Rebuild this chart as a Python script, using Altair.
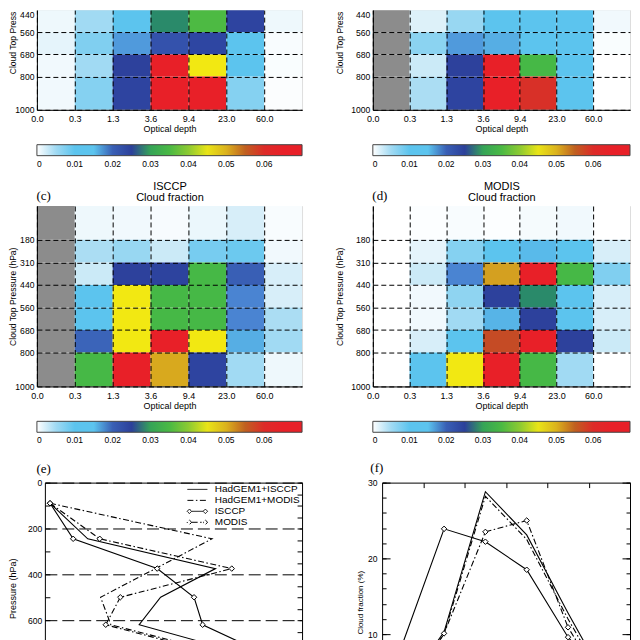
import altair as alt
import pandas as pd

FONT = "Liberation Sans"
SERIF = "Liberation Serif"
GREY = "#8c8c8c"

# ---------------- heat maps: cloud fraction per (optical depth, cloud-top pressure) bin -------------
tau_labels = ["0.0", "0.3", "1.3", "3.6", "9.4", "23.0", "60.0"]
press_bands = ["50-180", "180-310", "310-440", "440-560", "560-680", "680-800", "800-1000"]
press_labels = ["180", "310", "440", "560", "680", "800", "1000"]
# index-space edges of the pressure bands (top and bottom bands are 1.5x tall)
band_top = [0.0, 1.5, 2.5, 3.5, 4.5, 5.5, 6.5]
band_bot = [1.5, 2.5, 3.5, 4.5, 5.5, 6.5, 8.0]

ab_bands = ["440-560", "560-680", "680-800", "800-1000"]
a_vals = [
    [0.0012, 0.005, 0.012, 0.0285, 0.036, 0.022, 0.0012],
    [0.0018, 0.0068, 0.0178, 0.0205, 0.0212, 0.012, 0.0005],
    [0.001, 0.005, 0.024, 0.065, 0.047, 0.011, 0.0004],
    [0.001, 0.0065, 0.022, 0.065, 0.065, 0.0065, 0.0003],
]
b_vals = [
    [None, 0.0022, 0.0055, 0.012, 0.0165, 0.012, 0.001],
    [None, 0.0062, 0.0178, 0.0172, 0.012, 0.012, 0.0004],
    [None, 0.003, 0.024, 0.065, 0.034, 0.012, 0.0],
    [None, 0.0045, 0.022, 0.065, 0.0595, 0.012, 0.0],
]
c_vals = [
    [None, 0.0012, 0.001, 0.0006, 0.0014, 0.0025, 0.0005],
    [None, 0.0045, 0.0055, 0.003, 0.0075, 0.0085, 0.001],
    [None, 0.003, 0.024, 0.023, 0.034, 0.020, 0.0025],
    [None, 0.012, 0.047, 0.034, 0.034, 0.0185, 0.0025],
    [None, 0.012, 0.047, 0.034, 0.034, 0.0185, 0.0045],
    [None, 0.0198, 0.047, 0.065, 0.047, 0.0172, 0.005],
    [None, 0.034, 0.065, 0.0505, 0.022, 0.005, 0.0012],
]
d_vals = [
    [0.0, 0.0002, 0.0005, 0.0002, 0.0007, 0.001, 0.0],
    [0.0, 0.0018, 0.0065, 0.011, 0.0168, 0.012, 0.0025],
    [0.0, 0.003, 0.0185, 0.051, 0.065, 0.034, 0.0068],
    [0.0, 0.001, 0.006, 0.024, 0.0285, 0.012, 0.0025],
    [0.0, 0.001, 0.005, 0.017, 0.024, 0.012, 0.0025],
    [0.0, 0.0025, 0.012, 0.057, 0.065, 0.024, 0.003],
    [0.0, 0.012, 0.047, 0.065, 0.034, 0.005, 0.0],
]

# colour table
cb_domain = [0, 0.0005, 0.002, 0.004, 0.007, 0.010, 0.0165, 0.0185, 0.021, 0.026, 0.0285,
             0.031, 0.038, 0.043, 0.047, 0.051, 0.055, 0.058, 0.061, 0.07]
cb_range = ["#ffffff", "#f8fcfe", "#e2f3fa", "#b4e0f4", "#7ccef0", "#5cc4ee", "#5cc4ee",
            "#4a84d2", "#2e46a2", "#2c3e98", "#2a8a6a", "#3cb64a", "#54bb40", "#e0e01c",
            "#f2e812", "#d4a020", "#c06020", "#c84028", "#e82028", "#e82028"]
cb_ticks = [0, 0.01, 0.02, 0.03, 0.04, 0.05, 0.06]

# ---------------- (e) vertical profiles ----------------
series_names = ["HadGEM1+ISCCP", "HadGEM1+MODIS", "ISCCP", "MODIS"]
e_press = [90, 245, 375, 500, 620, 740, 900]
e_had_isccp = [0.6, 5.0, 19.9, 13.5, 11.0, 22.6, 14.0]
e_had_modis = [0.6, 19.5, 12.9, 6.5, 7.7, 20.1, 15.0]
e_isccp = [0.6, 3.3, 13.1, 17.4, 18.4, 25.3, 12.0]
e_modis = [0.6, 6.4, 21.8, 8.8, 7.1, 19.3, 13.0]

# ---------------- (f) optical-depth distributions ----------------
f_bin = [0.5, 1.5, 2.5, 3.5, 4.5, 5.5]
f_had_isccp = [2.5, 10.3, 28.8, 23.1, 12.8, 3.0]
f_had_modis = [2.5, 10.0, 28.2, 22.5, 12.0, 2.5]
f_isccp = [8.8, 23.9, 22.2, 18.5, 9.6, 3.5]
f_modis = [1.5, 10.1, 23.5, 25.0, 10.9, 2.0]


def ax(**kw):
    base = dict(labelFont=FONT, titleFont=FONT, labelColor="black", titleColor="black",
                titleFontWeight="normal", domainColor="black", tickColor="black")
    base.update(kw)
    return alt.Axis(**base)


cscale = alt.Scale(domain=cb_domain, range=cb_range, interpolate="rgb", clamp=True, nice=False, zero=False)
x_expr = "[" + ",".join("'%s'" % t for t in tau_labels) + "][datum.value]"
y_expr = " : ".join("datum.value == %s ? '%s'" % (p, l) for p, l in zip(band_bot, press_labels)) + " : ''"
cb_expr = "datum.value == 0 ? '0' : format(datum.value, '.2f')"

WL = 266   # left column width
WR = 258   # right column width (kept inside the 640 px page)


def heat(bands, vals, ytop, height, width, ytitle, tx, ty, talign, panel=None, head=None, label440=False):
    recs = []
    for band, row in zip(bands, vals):
        i = press_bands.index(band)
        for c, v in enumerate(row):
            recs.append({"x": c, "x2": c + 1, "y": band_top[i], "y2": band_bot[i], "v": v})
    df = pd.DataFrame(recs)
    valid = df[df["v"].notna()]
    missing = df[df["v"].isna()].drop(columns="v")
    xs = alt.Scale(domain=[0, 7], nice=False, zero=False)
    ys = alt.Scale(domain=[ytop, 8], nice=False, zero=False, reverse=True)
    ypos = [p for p in band_bot if p > ytop + 1e-6]
    xaxis = ax(orient="bottom", values=list(range(7)), labelExpr=x_expr, title="Optical depth", ticks=False,
               labelPadding=5, titlePadding=1, labelFontSize=9, titleFontSize=9, labelFlush=False,
               labelOverlap=False, grid=True, gridColor="black", gridDash=[5, 3], gridWidth=1,
               gridOpacity=1, domain=True, zindex=1)
    yaxis = ax(orient="left", values=ypos, labelExpr=y_expr, title=ytitle, ticks=False, labelPadding=3,
               labelFontSize=8.6, titleFontSize=8.6, labelOverlap=False, grid=True, gridColor="black",
               gridDash=[5, 3], gridWidth=1, gridOpacity=1, domain=True, zindex=1,
               titleX=tx, titleY=ty, titleAlign=talign, titleAngle=270, titleBaseline="bottom")
    leg = alt.Legend(orient="none", legendX=0, legendY=height + 35, direction="horizontal",
                     gradientLength=width, gradientThickness=11, title=None, values=cb_ticks,
                     labelExpr=cb_expr, labelFont=FONT, labelFontSize=8.5, labelColor="black",
                     labelAlign="center", labelOffset=4, gradientStrokeColor="#444",
                     gradientStrokeWidth=1, padding=0, labelOverlap=False)
    layers = []
    if len(missing):
        layers.append(alt.Chart(missing).mark_rect(color=GREY).encode(
            x=alt.X("x:Q", scale=xs, axis=None), x2="x2:Q",
            y=alt.Y("y:Q", scale=ys, axis=None), y2="y2:Q"))
    layers.append(alt.Chart(valid).mark_rect().encode(
        x=alt.X("x:Q", scale=xs, axis=xaxis), x2="x2:Q",
        y=alt.Y("y:Q", scale=ys, axis=yaxis), y2="y2:Q",
        color=alt.Color("v:Q", scale=cscale, legend=leg)))
    if label440:
        layers.append(alt.Chart(valid).transform_filter("false").mark_rect().encode(
            x=alt.X("x:Q", scale=xs, axis=None),
            y=alt.Y("y:Q", scale=ys, axis=ax(orient="left", values=[3.5], labelExpr="'440'", ticks=False,
                                             domain=False, grid=False, labelBaseline="top", labelPadding=3,
                                             labelFontSize=8.6, title=None))))
    if panel:
        layers.append(alt.Chart(valid).transform_filter("false").mark_rect().encode(
            x=alt.X("x:Q", scale=xs, axis=ax(orient="top", title=panel, labels=False, ticks=False,
                                             domain=False, grid=False, titleX=-1, titleY=-7,
                                             titleAlign="left", titleAngle=0, titleBaseline="alphabetic",
                                             titleFont=SERIF, titleFontSize=13)),
            y=alt.Y("y:Q", scale=ys, axis=None)))
    if head:
        layers.append(alt.Chart(valid).transform_filter("false").mark_rect().encode(
            x=alt.X("x:Q", scale=xs, axis=ax(orient="top", title=head, labels=False, ticks=False,
                                             domain=False, grid=False, titleX=width / 2, titleY=-15,
                                             titleAlign="center", titleAngle=0, titleBaseline="bottom",
                                             titleFontSize=11, titleLineHeight=11)),
            y=alt.Y("y:Q", scale=ys, axis=None)))
    return alt.layer(*layers).resolve_axis(x="independent", y="independent").properties(width=width, height=height)


a = heat(ab_bands, a_vals, 3.5, 100, WL, "Cloud Top Press", -19.4, 1, "right", label440=True)
b = heat(ab_bands, b_vals, 3.5, 100, WR, "Cloud Top Press", -28, 1, "right", label440=True)
c = heat(press_bands, c_vals, 0.0, 181, WL, "Cloud Top Pressure (hPa)", -19.4, 90.5, "center",
         panel="(c)", head=["ISCCP", "Cloud fraction"])
d = heat(press_bands, d_vals, 0.0, 181, WR, "Cloud Top Pressure (hPa)", -28, 90.5, "center",
         panel="(d)", head=["MODIS", "Cloud fraction"])

# ---------------- line panels ----------------
dashdot = [6, 2.5, 1.5, 2.5]


def diamond(cx, r=0.45):
    return "M%s,%sL%s,0L%s,%sL%s,0Z" % (cx, -r, cx + r, cx, r, cx - r)


sym_line = "M-1,0L3,0"
sym_mark = "M-0.15,0L2.15,0" + diamond(-0.6) + diamond(2.6)
sym_paths = [sym_line, sym_line, sym_mark, sym_mark]
sym_dash = [[1, 0], dashdot, [1, 0], dashdot]


def empty(df):
    return alt.Chart(df).transform_filter("false").mark_point()


def tick_axis(orient, offset, values, size, domain=False):
    return ax(orient=orient, offset=offset, values=values, labels=False, domain=domain, grid=False,
              ticks=True, tickSize=size, tickWidth=1, title=None, domainWidth=1)


def panel_axis(text, tx, ty, domain=False):
    return ax(orient="top", title=text, labels=False, ticks=False, domain=domain, grid=False,
              titleX=tx, titleY=ty, titleAlign="left", titleAngle=0, titleBaseline="alphabetic",
              titleFont=SERIF, titleFontSize=13, domainWidth=1)


# (e): plot frame spans x = 8 .. 266 inside a 266-wide cell
EH = 230
EL, ER = 8, WL
e_vals = dict(zip(series_names, [e_had_isccp, e_had_modis, e_isccp, e_modis]))
e_df = pd.DataFrame([{"series": s, "p": p, "v": v}
                     for s in series_names for p, v in zip(e_press, e_vals[s])])
ex = alt.Scale(domain=[0, 30], range=[EL, ER], nice=False, zero=False)
ey = alt.Scale(domain=[0, 1000], nice=False, zero=False, reverse=True)
EX = dict(shorthand="v:Q", scale=ex, axis=None)

e_main_y = ax(orient="left", offset=-EL, values=[0, 200, 400, 600, 800, 1000], title="Pressure (hPa)",
              ticks=False, labelPadding=3, labelFontSize=8.6, titleFontSize=9, labelOverlap=False,
              grid=True, gridColor="black", gridDash=[12, 5], gridWidth=1, gridOpacity=1, domain=True,
              domainWidth=1, titleX=-27, titleY=106, titleAlign="center", titleAngle=270,
              titleBaseline="bottom")
e_leg = alt.Legend(title=None, orient="none", legendX=150.5, legendY=1.3, padding=0, symbolSize=100,
                   symbolStrokeWidth=1, symbolStrokeColor="black", symbolOpacity=1,
                   labelFont=FONT, labelFontSize=10, labelColor="black", labelOffset=17, rowPadding=0)

e_layers = [
    alt.Chart(e_df).transform_filter(alt.FieldOneOfPredicate(field="series", oneOf=["HadGEM1+ISCCP", "ISCCP"]))
    .mark_line(color="black", strokeWidth=1.1).encode(
        x=alt.X(**EX), y=alt.Y("p:Q", scale=ey, axis=e_main_y), detail="series:N", order="p:Q"),
    alt.Chart(e_df).transform_filter(alt.FieldOneOfPredicate(field="series", oneOf=["HadGEM1+MODIS", "MODIS"]))
    .mark_line(color="black", strokeWidth=1.1, strokeDash=dashdot).encode(
        x=alt.X(**EX), y=alt.Y("p:Q", scale=ey, axis=None), detail="series:N", order="p:Q"),
    alt.Chart(e_df).transform_filter(alt.FieldOneOfPredicate(field="series", oneOf=["ISCCP", "MODIS"]))
    .mark_point(shape="diamond", size=30, filled=True, fill="white", stroke="black", strokeWidth=1, opacity=1)
    .encode(x=alt.X(**EX), y=alt.Y("p:Q", scale=ey, axis=None)),
    alt.Chart(e_df).transform_filter("false").mark_point(color="black", filled=False, strokeWidth=1).encode(
        x=alt.X(**EX), y=alt.Y("p:Q", scale=ey, axis=None),
        shape=alt.Shape("series:N", scale=alt.Scale(domain=series_names, range=sym_paths), legend=e_leg),
        strokeDash=alt.StrokeDash("series:N", scale=alt.Scale(domain=series_names, range=sym_dash), legend=e_leg)),
    empty(e_df).encode(x=alt.X(**EX), y=alt.Y("p:Q", scale=ey,
                                              axis=tick_axis("right", -(WL - EL), list(range(0, 1001, 100)), 5))),
    empty(e_df).encode(x=alt.X(**EX), y=alt.Y("p:Q", scale=ey,
                                              axis=tick_axis("left", -ER, list(range(0, 1001, 50)), 5, True))),
    empty(e_df).encode(x=alt.X("v:Q", scale=ex, axis=panel_axis("(e)", -1, -10, True)),
                       y=alt.Y("p:Q", scale=ey, axis=None)),
]
e_chart = alt.layer(*e_layers).resolve_axis(x="independent", y="independent").properties(
    width=WL, height=EH, view=alt.ViewBackground(stroke="transparent"))

# (f): plot frame spans x = 9.3 .. 258 inside a 258-wide cell
FH = 228
FL, FR = 9.3, WR
f_vals = dict(zip(series_names, [f_had_isccp, f_had_modis, f_isccp, f_modis]))
f_df = pd.DataFrame([{"series": s, "t": t, "v": v}
                     for s in series_names for t, v in zip(f_bin, f_vals[s])])
fx = alt.Scale(domain=[0, 6], range=[FL, FR], nice=False, zero=False)
fy = alt.Scale(domain=[0, 30], nice=False, zero=False)
FX = dict(shorthand="t:Q", scale=fx, axis=None)
f_main_y = ax(orient="left", offset=-FL, values=[10, 20, 30], title="Cloud fraction (%)", ticks=False,
              labelPadding=5, labelFontSize=8.6, titleFontSize=8, labelOverlap=False, grid=False,
              domain=True, domainWidth=1, titleX=-18, titleY=120, titleAlign="center", titleAngle=270,
              titleBaseline="bottom")
minor = list(range(0, 31, 2))
f_layers = [
    alt.Chart(f_df).transform_filter(alt.FieldOneOfPredicate(field="series", oneOf=["HadGEM1+ISCCP", "ISCCP"]))
    .mark_line(color="black", strokeWidth=1.1).encode(
        x=alt.X(**FX), y=alt.Y("v:Q", scale=fy, axis=f_main_y), detail="series:N"),
    alt.Chart(f_df).transform_filter(alt.FieldOneOfPredicate(field="series", oneOf=["HadGEM1+MODIS", "MODIS"]))
    .mark_line(color="black", strokeWidth=1.1, strokeDash=dashdot).encode(
        x=alt.X(**FX), y=alt.Y("v:Q", scale=fy, axis=None), detail="series:N"),
    alt.Chart(f_df).transform_filter(alt.FieldOneOfPredicate(field="series", oneOf=["ISCCP", "MODIS"]))
    .mark_point(shape="diamond", size=30, filled=True, fill="white", stroke="black", strokeWidth=1, opacity=1)
    .encode(x=alt.X(**FX), y=alt.Y("v:Q", scale=fy, axis=None)),
    empty(f_df).encode(x=alt.X(**FX), y=alt.Y("v:Q", scale=fy, axis=tick_axis("right", -(WR - FL), minor, 4))),
    empty(f_df).encode(x=alt.X(**FX), y=alt.Y("v:Q", scale=fy,
                                              axis=tick_axis("right", -(WR - FL), [0, 10, 20, 30], 8))),
    empty(f_df).encode(x=alt.X(**FX), y=alt.Y("v:Q", scale=fy, axis=tick_axis("left", -FR, minor, 4, True))),
    empty(f_df).encode(x=alt.X(**FX), y=alt.Y("v:Q", scale=fy, axis=tick_axis("left", -FR, [0, 10, 20, 30], 8))),
    empty(f_df).encode(x=alt.X("t:Q", scale=fx, axis=tick_axis("bottom", -FH, [1, 2, 3, 4, 5], 5, True)),
                       y=alt.Y("v:Q", scale=fy, axis=None)),
    empty(f_df).encode(x=alt.X("t:Q", scale=fx, axis=panel_axis("(f)", -3, -11)),
                       y=alt.Y("v:Q", scale=fy, axis=None)),
]
f_chart = alt.layer(*f_layers).resolve_axis(x="independent", y="independent").properties(
    width=WR, height=FH, view=alt.ViewBackground(stroke="transparent"))

chart = alt.concat(a, b, c, d, e_chart, f_chart, columns=2, bounds="flush",
                   spacing={"row": 96.5, "column": 71})
chart = chart.resolve_scale(color="independent", shape="independent", strokeDash="independent") \
             .resolve_legend(color="independent", shape="independent", strokeDash="independent")

chart = chart.properties(padding=0, background="white").configure_view(
    stroke="black", strokeWidth=1).configure_axis(minExtent=0, maxExtent=400).configure(font=FONT)

chart.save("out.html", embed_options={"renderer": "svg", "actions": False})
